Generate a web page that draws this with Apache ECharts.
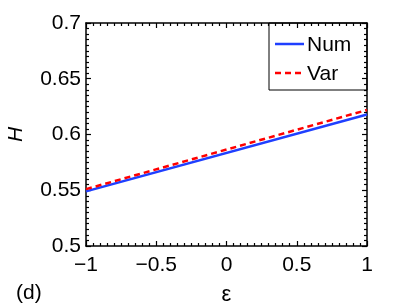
<!DOCTYPE html>
<html><head><meta charset="utf-8">
<script src="https://cdn.jsdelivr.net/npm/echarts@6/dist/echarts.min.js"></script>
<style>html,body{margin:0;padding:0;background:#fff}#c{width:407px;height:306px}</style>
</head><body><div id="c"></div>
<script>
const epsilon = [-1, 1];
const numH = [0.549, 0.618];
const varH = [0.551, 0.622];
const seriesNames = ['Num', 'Var'];

const font = 'Liberation Sans, Arial, sans-serif';
const blue = '#1f3fff', red = '#ff0000';
const chart = echarts.init(document.getElementById('c'));
function axisCommon() {
  return {
    axisLine: {show: true, onZero: false, lineStyle: {color: '#000', width: 1.5}},
    axisTick: {show: true, inside: true, length: 5, lineStyle: {color: '#000', width: 1.2}},
    minorTick: {show: true, splitNumber: 10, length: 3, lineStyle: {color: '#000', width: 1.2}},
    splitLine: {show: false}
  };
}
const L = 86, R = 367, T = 23, B = 246;
chart.setOption({
  animation: false,
  grid: {left: L, right: 407 - R, top: T, bottom: 306 - B, containLabel: false, outerBoundsMode: 'none'},
  xAxis: [
    Object.assign({type: 'value', min: -1, max: 1, interval: 0.5, position: 'bottom',
      axisLabel: {fontFamily: font, fontSize: 21, color: '#000', margin: 9,
        formatter: v => (v < 0 ? '\u2212' + Math.abs(v) : String(v))},
      name: '\u03b5', nameLocation: 'middle', nameGap: 38,
      nameTextStyle: {fontFamily: font, fontSize: 22, color: '#000'}}, axisCommon()),
    Object.assign({type: 'value', min: -1, max: 1, interval: 0.5, position: 'top',
      axisLabel: {show: false}}, axisCommon())
  ],
  yAxis: [
    Object.assign({type: 'value', min: 0.5, max: 0.7, interval: 0.05, position: 'left',
      axisLabel: {fontFamily: font, fontSize: 21, color: '#000', margin: 5,
        formatter: v => String(+v.toFixed(2))},
      name: 'H', nameLocation: 'middle', nameGap: 59, nameRotate: 90,
      nameTextStyle: {fontFamily: font, fontSize: 21, fontStyle: 'italic', color: '#000'}}, axisCommon()),
    Object.assign({type: 'value', min: 0.5, max: 0.7, interval: 0.05, position: 'right',
      axisLabel: {show: false}}, axisCommon())
  ],
  graphic: [
    {type: 'text', left: 16, top: 283,
      style: {text: '(d)', fontFamily: font, fontSize: 21, fill: '#000'}},
    {type: 'rect', shape: {x: 269, y: T, width: R - 269, height: 90 - T}, z: 10,
      style: {fill: 'none', stroke: '#000', lineWidth: 1}},
    {type: 'line', shape: {x1: 275, y1: 44, x2: 304, y2: 44}, z: 11,
      style: {stroke: blue, lineWidth: 2.5}},
    {type: 'line', shape: {x1: 275, y1: 73, x2: 304, y2: 73}, z: 11,
      style: {stroke: red, lineWidth: 2.5, lineDash: [6, 4]}},
    {type: 'text', x: 307, y: 45, z: 11,
      style: {text: seriesNames[0], fontFamily: font, fontSize: 21, fill: '#000', verticalAlign: 'middle'}},
    {type: 'text', x: 307, y: 74, z: 11,
      style: {text: seriesNames[1], fontFamily: font, fontSize: 21, fill: '#000', verticalAlign: 'middle'}}
  ],
  series: [
    {name: seriesNames[0], type: 'line', symbol: 'none', color: blue,
      lineStyle: {width: 2.5, color: blue},
      data: epsilon.map((x, i) => [x, numH[i]])},
    {name: seriesNames[1], type: 'line', symbol: 'none', color: red,
      lineStyle: {width: 2.5, type: [6, 4], color: red},
      data: epsilon.map((x, i) => [x, varH[i]])}
  ]
});
</script></body></html>
